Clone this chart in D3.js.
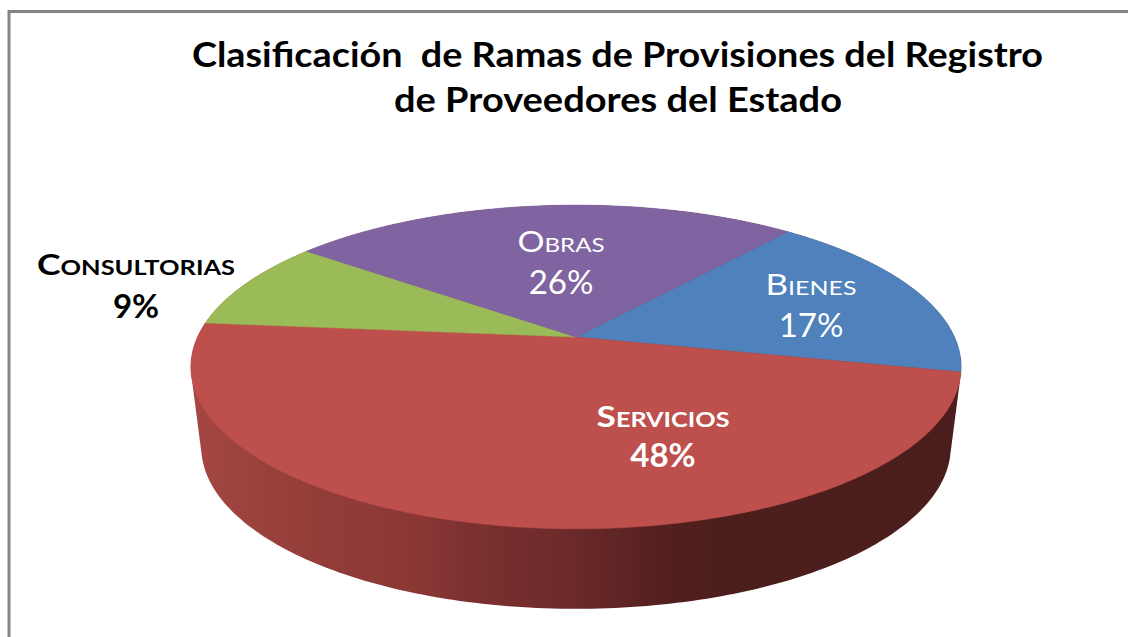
<!DOCTYPE html>
<html>
<head>
<meta charset="utf-8">
<script src="https://cdn.jsdelivr.net/npm/d3@7/dist/d3.min.js"></script>
<style>
html,body{margin:0;padding:0;background:#fff;}
svg{display:block;}
text{font-family:Lato,"Open Sans",sans-serif;}
</style>
</head>
<body>
<script>
const categories = ["Bienes","Servicios","Consultorias","Obras"];
const values = [17.4,48,9,25.6];
const colors = ["#4F81BD","#BD4F4C","#9BBB59","#8064A2"];
const titleLines = ["Clasificación  de Ramas de Provisiones del Registro","de Proveedores del Estado"];

const W=1128,H=637;
const svg=d3.select("body").append("svg").attr("width",W).attr("height",H);

// chart frame (top and left edges are all that show)
svg.append("path").attr("d",`M9,${H}V11.5H${W}`).attr("fill","none").attr("stroke","#848484").attr("stroke-width",3);

// title
const titleBox=[{x:192,w:851,y:67},{x:394,w:448,y:112}];
svg.selectAll("text.title").data(titleLines).join("text").attr("class","title")
  .attr("x",(d,i)=>titleBox[i].x).attr("y",(d,i)=>titleBox[i].y)
  .attr("textLength",(d,i)=>titleBox[i].w).attr("lengthAdjust","spacingAndGlyphs")
  .attr("font-size",34).attr("font-weight",700).attr("fill","#000").attr("xml:space","preserve")
  .style("white-space","pre").text(d=>d);

// perspective projection of the pie's disc
const apexX=576, apexY=337, c=0.185, k=-94, rX=378.5;
function project(angle,drop=0,shrink=1){
  const x=Math.sin(angle), y=Math.cos(angle), den=1+c*y;
  return [apexX+shrink*rX*x/den, apexY+(k*y)/den*1+ (337*(1/den-1)) + drop];
}

const startAngle=39.8*Math.PI/180;
const pie=d3.pie().sort(null).startAngle(startAngle).endAngle(startAngle+2*Math.PI);
const arcs=pie(values);
const line=d3.line();

// side wall
const defs=svg.append("defs");
const grad=defs.append("linearGradient").attr("id","wall").attr("gradientUnits","userSpaceOnUse")
  .attr("x1",190).attr("x2",961).attr("y1",0).attr("y2",0);
[[0,"#A54744"],[0.14,"#953E3A"],[0.30,"#8A3734"],[0.36,"#7C3130"],[0.5,"#6A2A29"],[0.62,"#531F1F"],[0.68,"#4C1F1D"],[1,"#4B1E1D"]]
 .forEach(s=>grad.append("stop").attr("offset",s[0]).attr("stop-color",s[1]));
const ringAngles=d3.range(0,360,1).map(a=>a*Math.PI/180);
const hull=d3.polygonHull(ringAngles.flatMap(a=>[project(a),project(a,80,0.973)]));
svg.append("path").attr("d",line(hull)+"Z").attr("fill","url(#wall)");

// top slices
svg.selectAll("path.slice").data(arcs).join("path").attr("class","slice")
  .attr("fill",(d,i)=>colors[i]).attr("stroke",(d,i)=>colors[i]).attr("stroke-width",0.5)
  .attr("d",d=>{
    const n=Math.ceil((d.endAngle-d.startAngle)/0.01);
    const pts=d3.range(n+1).map(j=>project(d.startAngle+(d.endAngle-d.startAngle)*j/n));
    return line([[apexX,apexY],...pts])+"Z";
  });

// labels
const labelBox=[
 {x:811,y1:295,y2:337,w:91,fill:"#fff",weight:400,size:28},
 {x:663,y1:427,y2:467,w:133,fill:"#fff",weight:700,size:28},
 {x:136,y1:275,y2:318,w:198,fill:"#000",weight:700,size:28},
 {x:561,y1:252,y2:294,w:87,fill:"#fff",weight:400,size:28}
];
const g=svg.selectAll("g.lab").data(arcs).join("g").attr("class","lab");
g.append("text").attr("x",(d,i)=>labelBox[i].x-labelBox[i].w/2).attr("y",(d,i)=>labelBox[i].y1)
  .attr("textLength",(d,i)=>labelBox[i].w).attr("lengthAdjust","spacingAndGlyphs")
  .attr("font-size",(d,i)=>labelBox[i].size).attr("font-weight",(d,i)=>labelBox[i].weight)
  .attr("fill",(d,i)=>labelBox[i].fill).style("font-variant","small-caps")
  .text((d,i)=>categories[i]);
g.append("text").attr("x",(d,i)=>labelBox[i].x).attr("y",(d,i)=>labelBox[i].y2).attr("text-anchor","middle")
  .attr("font-size",33).attr("font-weight",(d,i)=>labelBox[i].weight)
  .attr("fill",(d,i)=>labelBox[i].fill)
  .text(d=>Math.round(d.value)+"%");
</script>
</body>
</html>
